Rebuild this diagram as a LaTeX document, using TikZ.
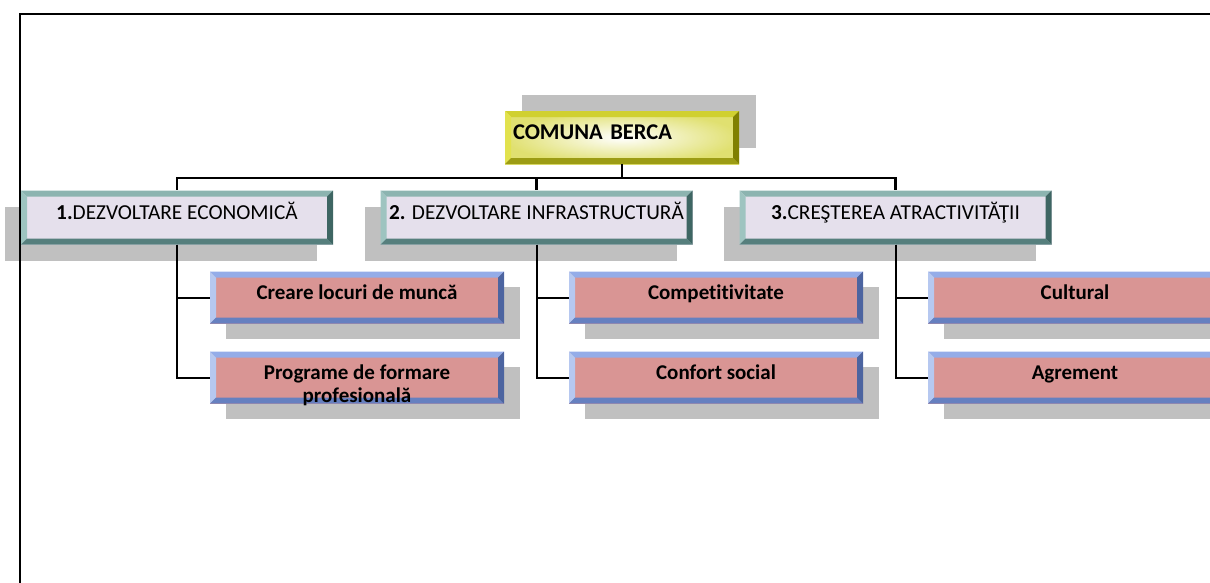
\documentclass[tikz,border=0pt]{standalone}
\usepackage{fontspec}
\setmainfont{Carlito}[Ligatures=NoCommon]
\usetikzlibrary{shadows}
\definecolor{shadowgray}{RGB}{192,192,192}
\definecolor{rootface}{RGB}{224,224,112}
\definecolor{roottop}{RGB}{208,208,48}
\definecolor{rootleft}{RGB}{226,226,78}
\definecolor{rootbottom}{RGB}{156,156,20}
\definecolor{rootright}{RGB}{128,128,0}
\definecolor{domface}{RGB}{229,224,236}
\definecolor{domtop}{RGB}{140,180,176}
\definecolor{domleft}{RGB}{158,196,192}
\definecolor{dombottom}{RGB}{86,127,125}
\definecolor{domright}{RGB}{62,102,99}
\definecolor{taskface}{RGB}{217,149,148}
\definecolor{tasktop}{RGB}{148,172,232}
\definecolor{taskleft}{RGB}{182,200,240}
\definecolor{taskbottom}{RGB}{102,128,192}
\definecolor{taskright}{RGB}{76,100,160}
\tikzset{bevel/.style n args={4}{path picture={
  \coordinate (bnw) at (path picture bounding box.north west);
  \coordinate (bne) at (path picture bounding box.north east);
  \coordinate (bsw) at (path picture bounding box.south west);
  \coordinate (bse) at (path picture bounding box.south east);
  \fill[#1] (bnw) -- (bne) -- ([shift={(-6pt,-6pt)}]bne) -- ([shift={(6pt,-6pt)}]bnw) -- cycle;
  \fill[#2] (bnw) -- ([shift={(6pt,-6pt)}]bnw) -- ([shift={(6pt,6pt)}]bsw) -- (bsw) -- cycle;
  \fill[#3] (bsw) -- (bse) -- ([shift={(-6pt,6pt)}]bse) -- ([shift={(6pt,6pt)}]bsw) -- cycle;
  \fill[#4] (bne) -- (bse) -- ([shift={(-6pt,6pt)}]bse) -- ([shift={(-6pt,-6pt)}]bne) -- cycle;
}}}
\tikzstyle{rootbox} = [rectangle, inner xsep=8pt, inner ysep=0pt, text width=218pt, align=left, minimum height=53pt,
  inner color=white, outer color=rootface, bevel={roottop}{rootleft}{rootbottom}{rootright},
  general shadow={fill=shadowgray, shadow xshift=17pt, shadow yshift=16pt},
  font=\fontsize{22.5}{25}\selectfont\bfseries, text height=12pt, text depth=8pt]
\tikzstyle{dombox} = [rectangle, inner sep=0pt, minimum width=312pt, minimum height=54pt,
  fill=domface, bevel={domtop}{domleft}{dombottom}{domright},
  general shadow={fill=shadowgray, shadow xshift=-16pt, shadow yshift=-16pt},
  font=\fontsize{21.3}{23}\selectfont, text height=12pt, text depth=8pt]
\tikzstyle{taskbox} = [rectangle, inner sep=0pt, minimum width=294pt, minimum height=52pt,
  fill=taskface, bevel={tasktop}{taskleft}{taskbottom}{taskright},
  general shadow={fill=shadowgray, shadow xshift=16pt, shadow yshift=-15pt},
  font=\fontsize{21}{23}\selectfont\bfseries, text height=12pt, text depth=8pt]
\tikzstyle{trunk} = [line width=2.4pt]
\tikzstyle{branch} = [line width=2pt]
\tikzstyle{frame} = [line width=2.6pt]

\begin{document}
\begin{tikzpicture}[x=1pt,y=-1pt,node distance=80pt]
      \useasboundingbox (0,0) rectangle (1210,582);
      \clip (0,0) rectangle (1210,582);
      \node (root) [rootbox] at (622,137.5) {COMUNA BERCA};
      \node (d2) [dombox, below of=root, xshift=-85.5pt] {\textbf{2.} DEZVOLTARE INFRASTRUCTURĂ};
      \node (d1) [dombox, left of=d2, xshift=-279.5pt] {\textbf{1.}DEZVOLTARE ECONOMICĂ};
      \node (d3) [dombox, right of=d2, xshift=279pt] {\textbf{3.}CREŞTEREA ATRACTIVITĂŢII};
      \node (d1a) [taskbox, below of=d1, xshift=180pt] {Creare locuri de muncă};
      \node (d1b) [taskbox, below of=d1a] {\begin{tabular}[t]{@{}c@{}}Programe de formare\\profesională\end{tabular}};
      \node (d2a) [taskbox, below of=d2, xshift=179.5pt] {Competitivitate};
      \node (d2b) [taskbox, below of=d2a] {Confort social};
      \node (d3a) [taskbox, below of=d3, xshift=179.5pt] {Cultural};
      \node (d3b) [taskbox, below of=d3a] {Agrement};
      \draw [trunk] (root.south) -- ++(0,14) -| (d1.north);
      \draw [trunk] (root.south) -- ++(0,14) -| (d2.north);
      \draw [trunk] (root.south) -- ++(0,14) -| (d3.north);
      \draw [branch] (d1.south) |- (d1a.west);
      \draw [branch] (d1.south) |- (d1b.west);
      \draw [branch] (d2.south) |- (d2a.west);
      \draw [branch] (d2.south) |- (d2b.west);
      \draw [branch] (d3.south) |- (d3a.west);
      \draw [branch] (d3.south) |- (d3b.west);
      \draw [frame] (1215,14) -- (20,14) -- (20,590);
    \end{tikzpicture}
\end{document}
